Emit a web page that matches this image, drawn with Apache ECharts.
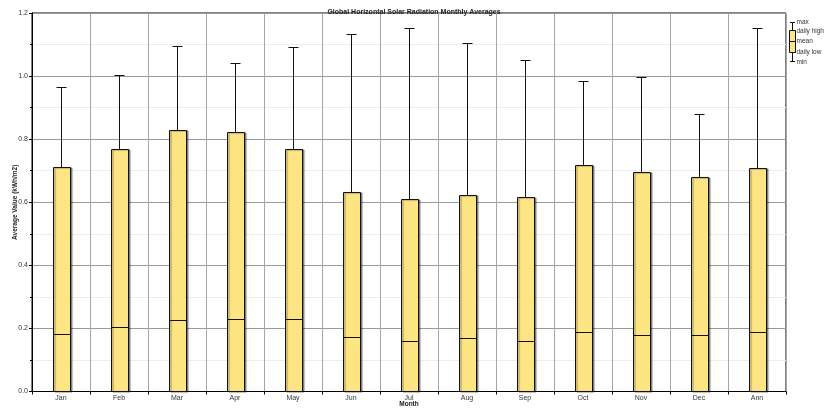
<!DOCTYPE html>
<html>
<head>
<meta charset="utf-8">
<title>Global Horizontal Solar Radiation Monthly Averages</title>
<script src="https://cdn.jsdelivr.net/npm/echarts@6/dist/echarts.min.js"></script>
<style>
  html, body { margin: 0; padding: 0; background: #fff; }
  #chart { width: 825px; height: 408px; }
</style>
</head>
<body>
<div id="chart"></div>
<script>
// Monthly statistics of global horizontal radiation (kWh/m2)
const months    = ['Jan','Feb','Mar','Apr','May','Jun','Jul','Aug','Sep','Oct','Nov','Dec','Ann'];
const minVals   = [0, 0, 0, 0, 0, 0, 0, 0, 0, 0, 0, 0, 0];
const dailyLow  = [0, 0, 0, 0, 0, 0, 0, 0, 0, 0, 0, 0, 0];
const meanVals  = [0.182, 0.202, 0.225, 0.227, 0.227, 0.170, 0.157, 0.167, 0.160, 0.188, 0.176, 0.177, 0.188];
const dailyHigh = [0.709, 0.768, 0.826, 0.820, 0.766, 0.632, 0.610, 0.620, 0.616, 0.716, 0.693, 0.680, 0.706];
const maxVals   = [0.965, 1.002, 1.094, 1.040, 1.090, 1.131, 1.150, 1.104, 1.048, 0.983, 0.996, 0.877, 1.150];
const yTicks    = { min: 0, max: 1.2, interval: 0.2 };

const FONT = '"Liberation Sans", Arial, sans-serif';
const FILL = '#fde584';
const EDGE = '#111';

const rows = months.map((m, i) => [i, minVals[i], dailyLow[i], meanVals[i], dailyHigh[i], maxVals[i]]);

const px = v => Math.round(v - 0.5) + 0.5;

function renderBox(params, api) {
  const i = api.value(0);
  const pMin  = api.coord([i, api.value(1)]);
  const pLow  = api.coord([i, api.value(2)]);
  const pMean = api.coord([i, api.value(3)]);
  const pHigh = api.coord([i, api.value(4)]);
  const pMax  = api.coord([i, api.value(5)]);
  const band = api.size([1, 0])[0];
  const bw = Math.round(band * 0.29);
  const cw = Math.round(band * 0.18);
  const cx = px(pLow[0]);
  const left = Math.round(pLow[0] - bw / 2) + 0.5;
  const lineStyle = { stroke: EDGE, lineWidth: 1 };
  return {
    type: 'group',
    children: [
      // upper whisker
      { type: 'line', shape: { x1: cx, y1: px(pMax[1]), x2: cx, y2: px(pHigh[1]) }, style: lineStyle },
      { type: 'line', shape: { x1: cx - cw / 2, y1: px(pMax[1]), x2: cx + cw / 2, y2: px(pMax[1]) }, style: lineStyle },
      // lower whisker
      { type: 'line', shape: { x1: cx, y1: px(pLow[1]), x2: cx, y2: px(pMin[1]) }, style: lineStyle },
      { type: 'line', shape: { x1: cx - cw / 2, y1: px(pMin[1]), x2: cx + cw / 2, y2: px(pMin[1]) }, style: lineStyle },
      // box between daily low and daily high
      {
        type: 'rect',
        shape: { x: left, y: px(pHigh[1]), width: bw, height: px(pLow[1]) - px(pHigh[1]) },
        style: {
          fill: FILL, stroke: EDGE, lineWidth: 1,
          shadowColor: 'rgba(0,0,0,0.4)', shadowOffsetX: 1.5, shadowOffsetY: 0.5, shadowBlur: 1
        }
      },
      // mean line
      { type: 'line', shape: { x1: left, y1: px(pMean[1]), x2: left + bw, y2: px(pMean[1]) }, style: lineStyle }
    ]
  };
}

// legend glyph at the top right
const LX = 792.5, LT = 22.5, LH = 30.5, LM = 41.5, LL = 52.5, LB = 61.5;
const legendText = (t, y) => ({
  type: 'text', left: 796.5, top: y - 4,
  style: { text: t, font: '6.5px ' + FONT, fill: '#333' }
});
const legendGraphic = [
  { type: 'line', shape: { x1: LX, y1: LT, x2: LX, y2: LB }, style: { stroke: EDGE, lineWidth: 1 } },
  { type: 'line', shape: { x1: LX - 2.5, y1: LT, x2: LX + 2.5, y2: LT }, style: { stroke: EDGE, lineWidth: 1 } },
  { type: 'line', shape: { x1: LX - 2.5, y1: LB, x2: LX + 2.5, y2: LB }, style: { stroke: EDGE, lineWidth: 1 } },
  { type: 'rect', shape: { x: 789.5, y: LH, width: 6, height: LL - LH }, style: { fill: FILL, stroke: EDGE, lineWidth: 1 } },
  { type: 'line', shape: { x1: 789.5, y1: LM, x2: 795.5, y2: LM }, style: { stroke: EDGE, lineWidth: 1 } },
  legendText('max', LT),
  legendText('daily high', LH + 1),
  legendText('mean', LM),
  legendText('daily low', LL),
  legendText('min', LB + 1)
];

const chart = echarts.init(document.getElementById('chart'), null, { renderer: 'canvas' });
chart.setOption({
  animation: false,
  backgroundColor: '#fff',
  title: {
    text: 'Global Horizontal Solar Radiation Monthly Averages',
    left: 409, top: 4, textAlign: 'center',
    textStyle: { fontFamily: FONT, fontSize: 7, fontWeight: 'bold', color: '#222' }
  },
  grid: {
    left: 32, right: 39, top: 13, bottom: 16.5,
    containLabel: false,
    outerBoundsMode: 'none',
    show: true, borderColor: '#000', borderWidth: 1, backgroundColor: 'transparent'
  },
  xAxis: {
    type: 'category',
    data: months,
    boundaryGap: true,
    name: 'Month',
    nameLocation: 'middle',
    nameGap: 9,
    nameMoveOverlap: false,
    nameTextStyle: { fontFamily: FONT, fontSize: 6.5, fontWeight: 'bold', color: '#222' },
    axisLine: { lineStyle: { color: '#000', width: 1 } },
    axisTick: { show: true, length: 3, interval: 0, lineStyle: { color: '#000' } },
    axisLabel: { fontFamily: FONT, fontSize: 7, color: '#333', margin: 3, interval: 0 },
    splitLine: { show: true, interval: 0, lineStyle: { color: '#a6a6a6', width: 1 } }
  },
  yAxis: {
    type: 'value',
    min: yTicks.min, max: yTicks.max, interval: yTicks.interval,
    name: 'Average Value (kWh/m2)',
    nameLocation: 'middle',
    nameGap: 13,
    nameMoveOverlap: false,
    nameTextStyle: { fontFamily: FONT, fontSize: 6.5, fontWeight: 'bold', color: '#222' },
    axisLine: { show: true, lineStyle: { color: '#000', width: 1 } },
    axisTick: { show: true, length: 3, lineStyle: { color: '#000' } },
    minorTick: { show: true, splitNumber: 2, length: 2, lineStyle: { color: '#000' } },
    axisLabel: {
      fontFamily: FONT, fontSize: 7, color: '#333', margin: 4,
      formatter: v => v.toFixed(1)
    },
    splitLine: { show: true, lineStyle: { color: '#9a9a9a', width: 1 } },
    minorSplitLine: { show: true, lineStyle: { color: '#ececec', width: 1 } }
  },
  series: [{
    type: 'custom',
    renderItem: renderBox,
    encode: { x: 0, y: [1, 2, 3, 4, 5] },
    data: rows,
    z: 5
  }],
  graphic: legendGraphic
});
</script>
</body>
</html>
